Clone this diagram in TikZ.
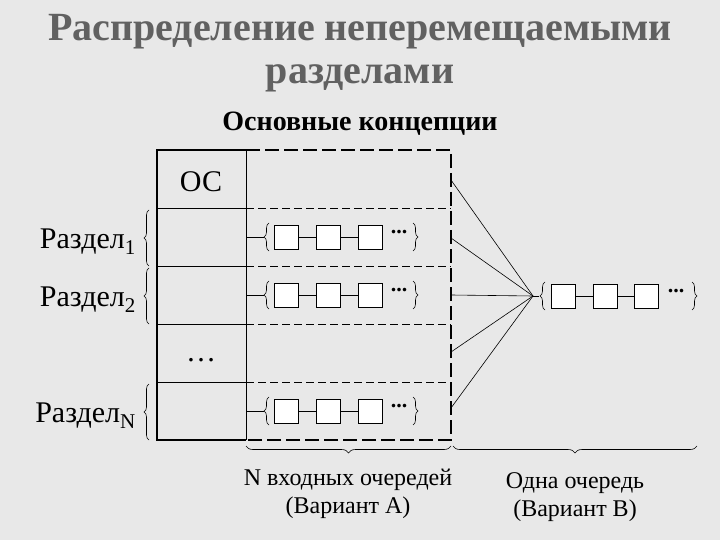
\documentclass[tikz,border=0pt]{standalone}
\usepackage{fontspec}
\setmainfont{Liberation Serif}
\usetikzlibrary{decorations.pathreplacing}
\begin{document}
\begin{tikzpicture}[x=1pt,y=-1pt,
  cell/.style={draw,fill=white,minimum width=24pt,minimum height=24pt,inner sep=0pt,line width=0.6pt},
  br/.style={decorate,decoration={brace,amplitude=5pt},line width=0.6pt},
  lbl/.style={font=\fontsize{30}{32}\selectfont,inner sep=0pt},
  thin/.style={line width=0.6pt},
  dsh/.style={line width=0.8pt,dash pattern=on 8pt off 4pt}]
\fill[gray!18] (0,0) rectangle (720,540);
\useasboundingbox (0,0) rectangle (720,540);
\node[font=\bfseries\fontsize{40}{43}\selectfont,text=black!62,align=center] (title) at (360,53) {Распределение неперемещаемыми\\разделами};
\node[font=\bfseries\fontsize{28}{30}\selectfont] (sub) at (360,124) {Основные концепции};
% dashed box
\draw[line width=1.6pt,dash pattern=on 14pt off 5pt] (246,150) -- (451,150) -- (451,440) -- (246,440);
\foreach \y in {208,266,324,382} \draw[dsh] (246,\y) -- (451,\y);
\foreach \y in {208,266,324,382} \draw[thin] (157,\y) -- (246,\y);
\draw[line width=1.6pt] (246,150) -- (157,150) -- (157,440) -- (246,440);
\draw[thin] (246,150) -- (246,440);
\node[lbl] (os) at (201,182) {ОС};
\node[lbl] (dots) at (201,360) {\dots};
% left labels
\node[lbl,anchor=east] (r1) at (136,242) {Раздел\textsubscript{1}};
\node[lbl,anchor=east] (r2) at (136,300) {Раздел\textsubscript{2}};
\node[lbl,anchor=east] (rn) at (136,416) {Раздел\textsubscript{N}};
\draw[br] (149,266) -- (149,210);
\draw[br] (149,324) -- (149,268);
\draw[br] (149,440) -- (149,384);
% queues
\foreach \n/\y in {a/237,b/295,c/411}{
  \node[cell] (\n1) at (286,\y) {};
  \node[cell] (\n2) at (328,\y) {};
  \node[cell] (\n3) at (370,\y) {};
  \node[font=\bfseries\fontsize{22}{22}\selectfont,inner sep=0pt] (\n d) at (399,\y-5) {...};
  \draw[thin] (\n1) -- (\n2) (\n2) -- (\n3);
  \coordinate (\n s) at (246,\y);
  \draw[thin] (\n s) -- (264,\y);
  \draw[br] (269,\y+14) -- (269,\y-14);
  \draw[br] (413,\y-14) -- (413,\y+14);
}
% queue B
\node[cell] (m1) at (563,296) {};
\node[cell] (m2) at (605,296) {};
\node[cell] (m3) at (646,296) {};
\node[font=\bfseries\fontsize{22}{22}\selectfont,inner sep=0pt] (md) at (676,291) {...};
\draw[thin] (m1) -- (m2) (m2) -- (m3);
\draw[br] (545,310) -- (545,282);
\draw[br] (692,282) -- (692,310);
\coordinate (hub) at (533,296);
\foreach \y in {180,238,295,352,408}{
  \coordinate (e\y) at (451,\y);
  \draw[thin] (e\y) -- (hub);
}
\draw[thin] (hub) -- (539,296);
% bottom braces
\draw[decorate,decoration={brace,amplitude=7pt},line width=0.6pt] (451,446) -- (246,446);
\draw[decorate,decoration={brace,amplitude=7pt},line width=0.6pt] (697,446) -- (453,446);
\node[font=\fontsize{24}{28}\selectfont,align=center] (la) at (348,494) {N входных очередей\\(Вариант A)};
\node[font=\fontsize{24}{28}\selectfont,align=center] (lb) at (575,497) {Одна очередь\\(Вариант B)};
\end{tikzpicture}
\end{document}
